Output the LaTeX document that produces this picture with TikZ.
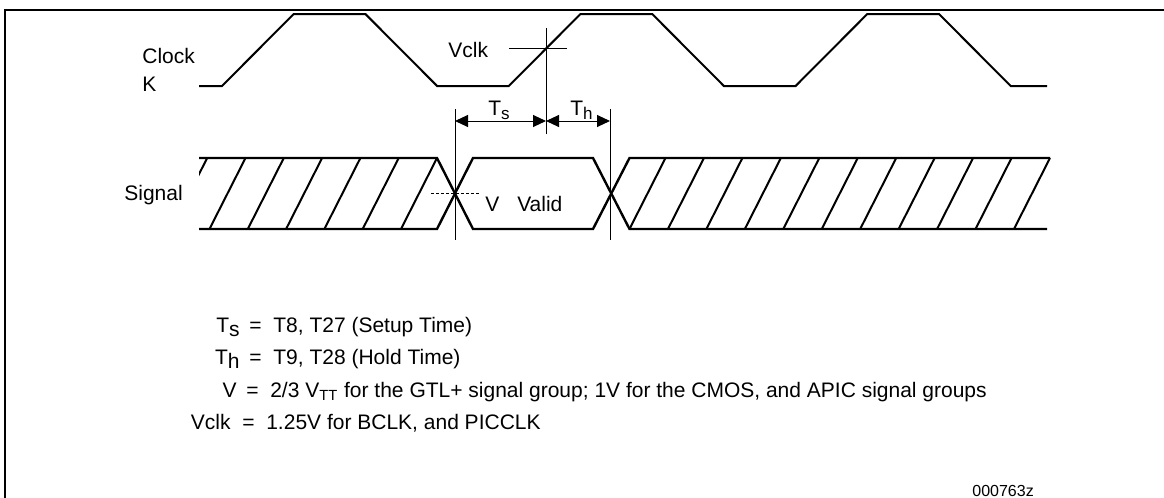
\documentclass[tikz,border=0pt]{standalone}
\usepackage{fontspec}
\setmainfont{Liberation Sans}
\usepackage{xcolor}
\usepackage{tikz}
\usetikzlibrary{calc, arrows.meta}
\tikzset{>={Triangle[width=6pt,length=6.5pt]}}
\tikzset{
	wave/.style={line width=1pt},
	band/.style={line width=1.2pt},
	hatch/.style={line width=1pt},
	marker/.style={line width=0.5pt},
	lbl/.style={inner sep=0pt, font=\fontsize{10.5}{12}\selectfont},
}
\newcommand{\lowsub}[1]{\raisebox{-0.45ex}{#1}}
\newcommand{\dimsub}[1]{\raisebox{-0.4ex}{\fontsize{8.5}{10}\selectfont #1}}

\begin{document}
\begin{tikzpicture}[x=0.5pt,y=-0.5pt]
	\useasboundingbox (0,0) rectangle (1164,498);
	% frame
	\draw[line width=1pt] (5,498) -- (5,10) -- (1164,10);
	% clock
	\node[lbl, anchor=base west] (clock) at (142,63) {Clock};
	\node[lbl, anchor=base west] (clockk) at (142,91) {K};
	\draw[wave] (199,86) -- (222,86) -- (293.7,14) -- (365.4,14) -- (437.1,86)
		-- (508.8,86) -- (580.5,14) -- (652.2,14) -- (723.9,86) -- (795.6,86)
		-- (867.3,14) -- (939,14) -- (1010.7,86) -- (1047,86);
	\node[lbl, anchor=base west] (vclk) at (448,57) {Vclk};
	\draw[marker] (546,28) -- (546,134);
	\draw[marker] (509,48) -- (567,48);
	% signal
	\node[lbl, anchor=base west] (signal) at (124,200) {Signal};
	\draw[band] (199,158) -- (437,158) -- (473,229) -- (593,229) -- (629.5,158) -- (1050,158);
	\draw[band] (199,229) -- (437,229) -- (473,158) -- (593,158) -- (629.5,229) -- (1047,229);
	\begin{scope}
		\clip (199,150) rectangle (440,235);
		\foreach \k in {0,...,6}
			\draw[hatch] (401-38.3*\k,229) -- (437-38.3*\k,158);
	\end{scope}
	\foreach \k in {1,...,10}
		\draw[hatch] (629.5+38.45*\k,229) -- (665.5+38.45*\k,158);
	\draw[hatch] (629.5,229) -- (665.5,158);
	\draw[marker, dash pattern=on 1.5pt off 1pt] (431,193) -- (479,193);
	\node[lbl, anchor=base west] (valid) at (485,211) {V\hspace{0.85em}Valid};
	% setup and hold
	\draw[marker] (455,109) -- (455,240);
	\draw[marker] (610,109) -- (610,240);
	\coordinate (ts) at (455,121);
	\coordinate (clk) at (546,121);
	\coordinate (th) at (610,121);
	\draw[marker,<->] (ts) -- (clk);
	\draw[marker,<->] (clk) -- (th);
	\node[lbl, anchor=base west] (tslbl) at (488,115) {T\dimsub{s}};
	\node[lbl, anchor=base west] (thlbl) at (570,115) {T\dimsub{h}};
	% legend
	\node[lbl, anchor=base east] (lgts) at (240,332) {T\lowsub{s}};
	\node[lbl, anchor=base west] (lgtsv) at (249,332) {=\ \ T8, T27 (Setup Time)};
	\node[lbl, anchor=base east] (lgth) at (240,364) {T\lowsub{h}};
	\node[lbl, anchor=base west] (lgthv) at (249,364) {=\ \ T9, T28 (Hold Time)};
	\node[lbl, anchor=base east] (lgv) at (237,397) {V};
	\node[lbl, anchor=base west] (lgvv) at (246,397) {=\ \ 2/3 V\textsubscript{TT} for the GTL+ signal group; 1V for the CMOS, and APIC signal groups};
	\node[lbl, anchor=base east] (lgvclk) at (231,429) {Vclk};
	\node[lbl, anchor=base west] (lgvclkv) at (242,429) {=\ \ 1.25V for BCLK, and PICCLK};
	\node[inner sep=0pt, anchor=base west, font=\fontsize{8}{9}\selectfont] (fignum) at (972,496) {000763z};
\end{tikzpicture}
\end{document}
